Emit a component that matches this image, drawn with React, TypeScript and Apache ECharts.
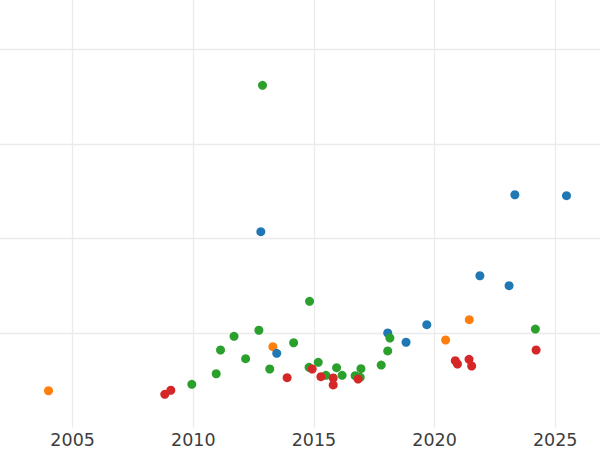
import React, { useEffect, useRef } from "react";
import * as echarts from "echarts";

const blueX = [2012.80, 2013.46, 2018.06, 2018.82, 2019.68, 2021.88, 2023.09, 2023.33, 2025.47];
const blueY = [2.072, 0.785, 1.000, 0.902, 1.088, 1.606, 1.501, 2.463, 2.453];

const orangeX = [2004.00, 2013.30, 2020.46, 2021.44];
const orangeY = [0.389, 0.855, 0.926, 1.141];

const greenX = [2009.94, 2010.95, 2011.13, 2011.69, 2012.17, 2012.72, 2012.87, 2013.17, 2014.16, 2014.82, 2014.80, 2015.18, 2015.50, 2015.94, 2016.17, 2016.71, 2016.95, 2016.92, 2017.79, 2018.06, 2018.15, 2024.18];
const greenY = [0.457, 0.569, 0.820, 0.965, 0.728, 1.029, 3.621, 0.619, 0.897, 1.335, 0.637, 0.690, 0.552, 0.633, 0.552, 0.548, 0.622, 0.531, 0.661, 0.810, 0.947, 1.042];

const redX = [2008.82, 2009.07, 2013.89, 2014.93, 2015.29, 2015.80, 2015.80, 2016.83, 2020.86, 2020.95, 2021.43, 2021.54, 2024.21];
const redY = [0.351, 0.394, 0.527, 0.619, 0.538, 0.524, 0.450, 0.513, 0.707, 0.672, 0.722, 0.651, 0.820];

const zip = (xs: number[], ys: number[]) => xs.map((x, i) => [x, ys[i]]);

export default function App() {
  const ref = useRef<HTMLDivElement>(null);
  useEffect(() => {
    if (!ref.current) return;
    const chart = echarts.init(ref.current, null, { renderer: "svg" });
    const mk = (name: string, data: number[][], color: string) => ({
      name,
      type: "scatter",
      data,
      symbol: "circle",
      symbolSize: 9,
      itemStyle: { color, opacity: 1 },
      emphasis: { disabled: true },
    });
    chart.setOption({
      animation: false,
      backgroundColor: "#ffffff",
      grid: { left: 0, right: 0, top: 0, bottom: 22.5, containLabel: false, outerBoundsMode: "none" },
      xAxis: {
        type: "value",
        min: 2000,
        max: 2026.9,
        interval: 5,
        axisLine: { show: false },
        axisTick: { show: false },
        axisLabel: {
          color: "#3d3d3d",
          fontSize: 17.5,
          fontFamily: "DejaVu Sans",
          margin: 3,
          showMinLabel: false,
          showMaxLabel: false,
          formatter: (v: number) => String(v),
        },
        splitLine: { show: true, showMinLine: true, showMaxLine: false, lineStyle: { color: "#ebebeb", width: 1.3 } },
      },
      yAxis: {
        type: "value",
        min: 0,
        max: 4.524,
        interval: 1,
        axisLine: { show: false },
        axisTick: { show: false },
        axisLabel: { show: false },
        splitLine: { show: true, showMinLine: false, showMaxLine: false, lineStyle: { color: "#ebebeb", width: 1.3 } },
      },
      series: [
        mk("orange", zip(orangeX, orangeY), "#ff7f0e"),
        mk("blue", zip(blueX, blueY), "#1f77b4"),
        mk("green", zip(greenX, greenY), "#2ca02c"),
        mk("red", zip(redX, redY), "#d62728"),
      ],
    });
    return () => chart.dispose();
  }, []);
  return (
    <div style={{ position: "absolute", left: 0, top: 0, width: 600, height: 450, overflow: "hidden", background: "#fff" }}>
      <div ref={ref} style={{ width: 648.5, height: 450, position: "absolute", left: -48.5, top: 0 }} />
    </div>
  );
}
